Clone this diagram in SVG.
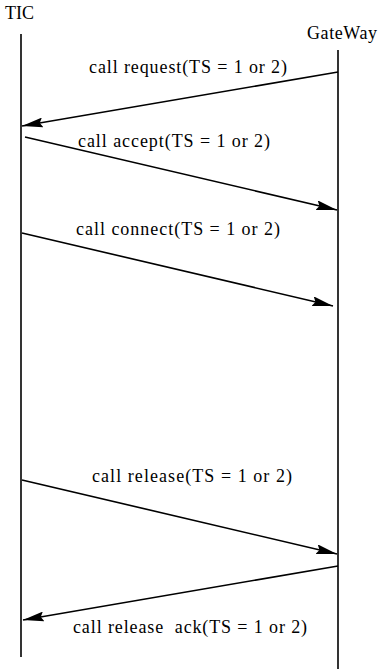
<svg xmlns="http://www.w3.org/2000/svg" width="384" height="671" viewBox="0 0 384 671">
<defs>
<marker id="ah" viewBox="0 0 21 10" refX="21" refY="5" markerWidth="21" markerHeight="10" markerUnits="userSpaceOnUse" orient="auto">
<path d="M0,0 L21,5 L0,10 L3,5 Z" fill="#000"/>
</marker>
</defs>
<style>
text{font-family:"Liberation Serif","Times New Roman",serif;font-size:18px;fill:#000}
.life{stroke:#000;stroke-width:1.6;fill:none}
.msg{stroke:#000;stroke-width:1.6;fill:none;marker-end:url(#ah)}
</style>
<rect width="384" height="671" fill="#fff"/>
<g id="tic">
<text x="5" y="19">TIC</text>
<line class="life" x1="21" y1="34" x2="21" y2="657"/>
</g>
<g id="gateway">
<text x="307" y="39" textLength="70" lengthAdjust="spacing">GateWay</text>
<line class="life" x1="338" y1="50" x2="338" y2="669"/>
</g>
<g id="connectors">
<line class="msg" x1="338" y1="72" x2="22" y2="126"/>
<line class="msg" x1="25" y1="137" x2="337" y2="210"/>
<line class="msg" x1="22" y1="233" x2="333" y2="306"/>
<line class="msg" x1="22" y1="480" x2="337" y2="554"/>
<line class="msg" x1="338" y1="566" x2="23" y2="620"/>
</g>
<g id="labels">
<text x="89" y="73" textLength="198" lengthAdjust="spacing">call request(TS = 1 or 2)</text>
<text x="78" y="147" textLength="192" lengthAdjust="spacing">call accept(TS = 1 or 2)</text>
<text x="76" y="235" textLength="204" lengthAdjust="spacing">call connect(TS = 1 or 2)</text>
<text x="92" y="482" textLength="200" lengthAdjust="spacing">call release(TS = 1 or 2)</text>
<text x="73" y="633" textLength="234" lengthAdjust="spacing">call release&#160; ack(TS = 1 or 2)</text>
</g>
</svg>
